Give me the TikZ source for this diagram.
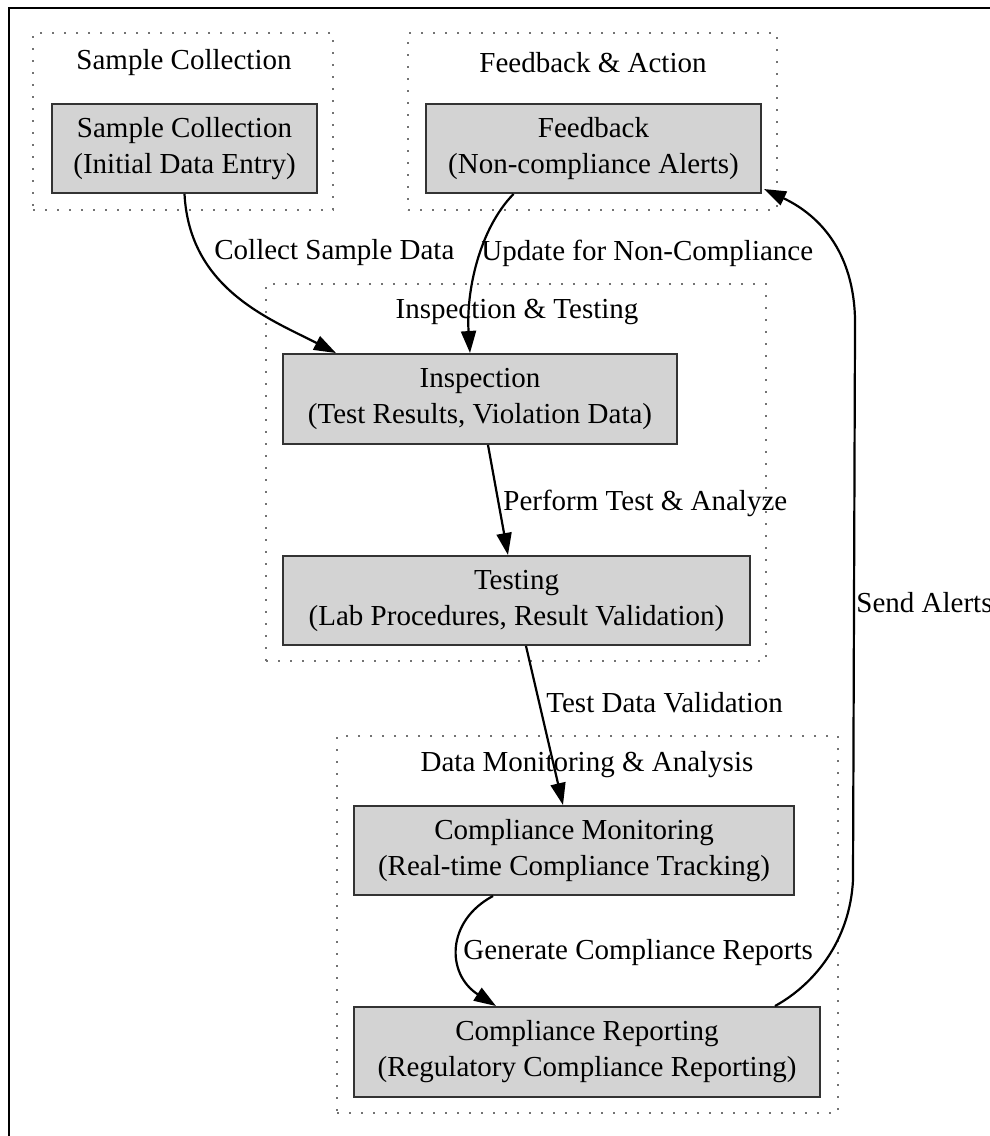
\documentclass[tikz,border=0pt]{standalone}
\usepackage{fontspec}
\setmainfont{Liberation Serif}
\usetikzlibrary{arrows.meta}
\definecolor{nodefill}{RGB}{211,211,211}
\newcommand\dgfont{\fontsize{14.5pt}{18pt}\selectfont}
\begin{document}
\begin{tikzpicture}[x=0.5pt,y=-0.5pt,
  box/.style={draw=black!80, line width=1pt, fill=nodefill, align=center, inner sep=0pt, font=\dgfont},
  cluster/.style={draw=black!55, line width=1pt, dash pattern=on 1pt off 5pt, inner sep=0pt},
  clabel/.style={inner sep=0pt, font=\dgfont, yshift=-1.5pt},
  lbl/.style={inner sep=0pt, font=\dgfont, anchor=west, yshift=-1.5pt},
  edge/.style={line width=1.1pt, -{Triangle[length=11pt,width=7.5pt]}}]
\useasboundingbox (0,0) rectangle (990,1136);
% outer frame (top and left edges visible)
\draw[line width=1.25pt] (9,1136) -- (9,8) -- (990,8);
% clusters
\node[cluster, minimum width=150pt, minimum height=88.5pt] (c1) at (183,121.5) {};
\node[cluster, minimum width=184.5pt, minimum height=88.5pt] (c2) at (592.5,121.5) {};
\node[cluster, minimum width=250pt, minimum height=188.5pt] (c3) at (516,472.5) {};
\node[cluster, minimum width=250.5pt, minimum height=188.5pt] (c4) at (587.5,924.5) {};
\node[clabel] (l1) at (184,60) {Sample Collection};
\node[clabel] (l2) at (593,60) {Feedback \& Action};
\node[clabel] (l3) at (517,309) {Inspection \& Testing};
\node[clabel] (l4) at (587,762) {Data Monitoring \& Analysis};
% nodes
\node[box, minimum width=132.5pt, minimum height=44.5pt] (sc) at (184.5,148.5) {Sample Collection\\(Initial Data Entry)};
\node[box, minimum width=167.5pt, minimum height=44.5pt] (fb) at (593.5,148.5) {Feedback\\(Non-compliance Alerts)};
\node[box, minimum width=197pt, minimum height=45pt] (insp) at (480,399) {Inspection\\(Test Results, Violation Data)};
\node[box, minimum width=233.5pt, minimum height=44.5pt] (test) at (516.5,600.5) {Testing\\(Lab Procedures, Result Validation)};
\node[box, minimum width=220pt, minimum height=44.5pt] (cm) at (574,850.5) {Compliance Monitoring\\(Real-time Compliance Tracking)};
\node[box, minimum width=233pt, minimum height=45pt] (cr) at (587,1052) {Compliance Reporting\\(Regulatory Compliance Reporting)};
% edges
\draw[edge] (sc.south) .. controls +(5,95) and +(-66,-34) .. ([xshift=-72pt]insp.north);
\draw[edge] ([xshift=-40pt]fb.south) .. controls +(-35,36) and +(-4,-60) .. ([xshift=-5pt]insp.north);
\draw[edge] ([xshift=4pt]insp.south) -- ([xshift=-4.25pt]test.north);
\draw[edge] ([xshift=4.75pt]test.south) -- ([xshift=-5.5pt]cm.north);
\draw[edge] ([xshift=-40.5pt]cm.south) .. controls +(-47,25) and +(-50,-32) .. ([xshift=-45.5pt]cr.north);
\coordinate (s1) at (853,880);
\coordinate (s2) at (855,330);
\draw[edge] ([xshift=94pt]cr.north) .. controls +(40,-22) and +(-3,60) .. (s1) -- (s2) .. controls +(2,-75) and +(57,27) .. ([xshift=1pt,yshift=2.5pt]fb.south east);
% edge labels
\node[lbl] (e1) at (214,250) {Collect Sample Data};
\node[lbl] (e2) at (481,250) {Update for Non-Compliance};
\node[lbl] (e3) at (503,500) {Perform Test \& Analyze};
\node[lbl] (e4) at (546,700) {Test Data Validation};
\node[lbl] (e5) at (463,950) {Generate Compliance Reports};
\node[lbl] (e6) at (856,600) {Send Alerts};
\end{tikzpicture}
\end{document}
